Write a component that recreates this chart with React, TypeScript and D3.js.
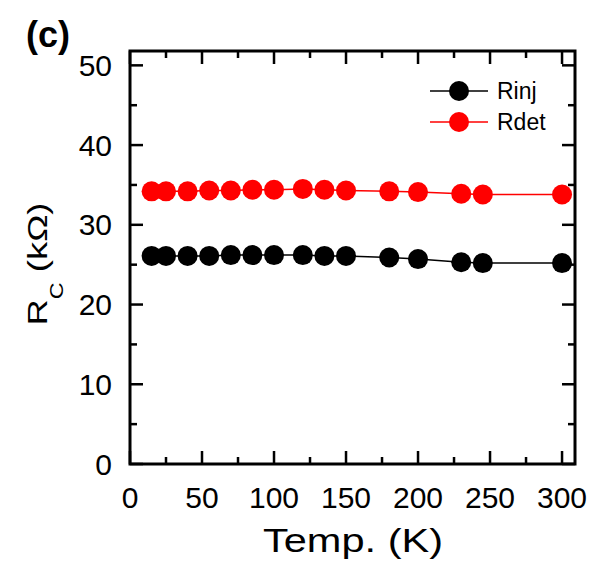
import React from "react";
import * as d3 from "d3";

const temps = [15, 25, 40, 55, 70, 85, 100, 120, 135, 150, 180, 200, 230, 245, 300];
const rinj = [26.1, 26.1, 26.1, 26.1, 26.2, 26.2, 26.2, 26.2, 26.1, 26.1, 25.9, 25.7, 25.3, 25.2, 25.2];
const rdet = [34.2, 34.2, 34.2, 34.3, 34.3, 34.4, 34.4, 34.5, 34.4, 34.3, 34.2, 34.1, 33.9, 33.8, 33.8];
const xMajor = [0, 50, 100, 150, 200, 250, 300];
const xMinor = [25, 75, 125, 175, 225, 275];
const yMajor = [0, 10, 20, 30, 40, 50];
const yMinor = [5, 15, 25, 35, 45];
const seriesNames = ["Rinj", "Rdet"];
const seriesColors = ["#000000", "#ff0000"];

const W = 592, H = 567;
const L = 130, R = 575, T = 51, B = 464;
const FONT = "'Liberation Sans', Arial, sans-serif";

export default function App() {
  const x = d3.scaleLinear().domain([0, 309]).range([L, R]);
  const y = d3.scaleLinear().domain([0, 51.8]).range([B, T]);
  const line = d3.line<[number, number]>().x(d => x(d[0])).y(d => y(d[1]));
  const series = [rinj, rdet];
  const MAJ = 13, MIN = 7;
  return (
    <svg width={W} height={H} style={{ position: "absolute", left: 0, top: 0, background: "#fff" }} fontFamily={FONT}>
      <rect x={0} y={0} width={W} height={H} fill="#fff" />
      {series.map((vals, si) => {
        const pts = temps.map((t, i) => [t, vals[i]] as [number, number]);
        return (
          <g key={si}>
            <path d={line(pts) || ""} fill="none" stroke={seriesColors[si]} strokeWidth={1.5} />
            {pts.map((p, i) => (
              <circle key={i} cx={x(p[0])} cy={y(p[1])} r={10} fill={seriesColors[si]} />
            ))}
          </g>
        );
      })}
      {/* ticks */}
      <g stroke="#000" strokeWidth={2.5}>
        {xMajor.map(v => (
          <g key={"xm" + v}>
            <line x1={x(v)} x2={x(v)} y1={B} y2={B - MAJ} />
            <line x1={x(v)} x2={x(v)} y1={T} y2={T + MAJ} />
          </g>
        ))}
        {xMinor.map(v => (
          <g key={"xn" + v}>
            <line x1={x(v)} x2={x(v)} y1={B} y2={B - MIN} />
            <line x1={x(v)} x2={x(v)} y1={T} y2={T + MIN} />
          </g>
        ))}
        {yMajor.map(v => (
          <g key={"ym" + v}>
            <line x1={L} x2={L + MAJ} y1={y(v)} y2={y(v)} />
            <line x1={R} x2={R - MAJ} y1={y(v)} y2={y(v)} />
          </g>
        ))}
        {yMinor.map(v => (
          <g key={"yn" + v}>
            <line x1={L} x2={L + MIN} y1={y(v)} y2={y(v)} />
            <line x1={R} x2={R - MIN} y1={y(v)} y2={y(v)} />
          </g>
        ))}
      </g>
      <rect x={L} y={T} width={R - L} height={B - T} fill="none" stroke="#000" strokeWidth={3} />
      {/* tick labels */}
      {xMajor.map(v => (
        <text key={"xl" + v} x={x(v)} y={508} textAnchor="middle" fontSize={30} fill="#000">{v}</text>
      ))}
      {yMajor.map(v => (
        <text key={"yl" + v} x={112} y={y(v) + 10.5} textAnchor="end" fontSize={30} fill="#000">{v}</text>
      ))}
      {/* axis titles */}
      <text x={353} y={552} textAnchor="middle" fontSize={33} fill="#000"
        textLength={180} lengthAdjust="spacingAndGlyphs">Temp. (K)</text>
      <text transform="translate(47,264) rotate(-90) scale(1.3,1)" textAnchor="middle" fontSize={28} fill="#000">
        R<tspan fontSize={18} dy={16}>C</tspan><tspan dy={-16}> (kΩ)</tspan>
      </text>
      <text x={26} y={47} fontSize={36} fontWeight="bold" fill="#000">(c)</text>
      {/* legend */}
      {seriesNames.map((n, i) => {
        const ly = 91 + i * 31;
        return (
          <g key={n}>
            <line x1={430} x2={488} y1={ly} y2={ly} stroke={seriesColors[i]} strokeWidth={1.5} />
            <circle cx={459} cy={ly} r={10} fill={seriesColors[i]} />
            <text x={497} y={ly + 8} fontSize={23} fill="#000">{n}</text>
          </g>
        );
      })}
    </svg>
  );
}
